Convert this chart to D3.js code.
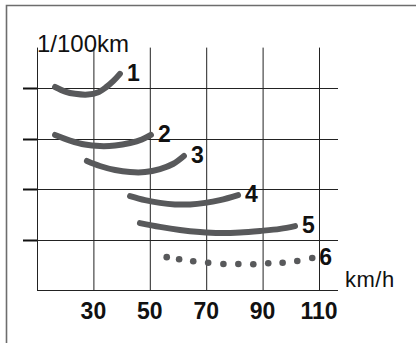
<!DOCTYPE html>
<html>
<head>
<meta charset="utf-8">
<script src="https://cdn.jsdelivr.net/npm/d3@7"></script>
<style>
  html, body { margin: 0; padding: 0; background: #fff; }
  svg { display: block; }
  text { font-family: "Liberation Sans", Arial, sans-serif; }
</style>
</head>
<body>
<div id="chart"></div>
<script>
// speed ticks (km/h) and unlabeled consumption grid levels
const xTicks = [10, 30, 50, 70, 90, 110];
const xLabels = ["30", "50", "70", "90", "110"];
const yGrid = [4, 6, 8, 10];

// gear curves: speed (km/h) and consumption
const gear1 = [[16.4, 10.04], [20, 9.86], [23.5, 9.77], [28, 9.74], [31.5, 9.82], [34.6, 10.04], [37.1, 10.28], [39.4, 10.56]];
const gear2 = [[16.4, 8.14], [21.7, 7.92], [27, 7.76], [32.3, 7.7], [37.7, 7.72], [43, 7.82], [47.2, 7.96], [50.4, 8.14]];
const gear3 = [[27.7, 7.11], [32.3, 6.91], [37.7, 6.75], [43, 6.67], [48.3, 6.67], [53.6, 6.79], [58.2, 6.99], [62.1, 7.31]];
const gear4 = [[43, 5.72], [48.3, 5.56], [53.6, 5.45], [58.9, 5.39], [64.3, 5.39], [69.6, 5.45], [74.9, 5.56], [81.3, 5.76]];
const gear5 = [[46.5, 4.65], [53.6, 4.5], [60.7, 4.38], [67.8, 4.3], [74.9, 4.26], [82, 4.28], [89.1, 4.34], [96.2, 4.42], [101.5, 4.53]];
const gear6 = [[56, 3.3], [60.4, 3.22], [65.4, 3.14], [70.7, 3.08], [76.1, 3.03], [81.4, 3.03], [86.7, 3.02], [92, 3.06], [97.1, 3.08], [102.3, 3.15], [107.6, 3.27]];
const gearNames = ["1", "2", "3", "4", "5", "6"];

const W = 416, H = 343;
const ink = "#58595b";

const x = d3.scaleLinear().domain([10, 110]).range([37, 319]);
const y = d3.scaleLinear().domain([2, 10]).range([290, 88]);
const yTop = 11.6;

const svg = d3.select("#chart").append("svg")
  .attr("width", W)
  .attr("height", H);

// outer frame (top + left only)
svg.append("path")
  .attr("d", `M6.5,${H} V5.5 H${W}`)
  .attr("fill", "none")
  .attr("stroke", "#6d6d6d")
  .attr("stroke-width", 1.6);

const grid = svg.append("g");

// vertical grid lines
grid.selectAll(".vline")
  .data(xTicks)
  .enter().append("line")
  .attr("class", "vline")
  .attr("x1", d => x(d) + 0.5).attr("x2", d => x(d) + 0.5)
  .attr("y1", y(yTop)).attr("y2", y(2))
  .attr("stroke", "#222")
  .attr("stroke-width", 1);

// horizontal grid lines plus little tick dashes on the left
grid.selectAll(".hline")
  .data(yGrid)
  .enter().append("line")
  .attr("class", "hline")
  .attr("x1", x(10) - 14).attr("x2", x(110) + 19)
  .attr("y1", d => Math.round(y(d)) + 0.5).attr("y2", d => Math.round(y(d)) + 0.5)
  .attr("stroke", "#222")
  .attr("stroke-width", 1);

grid.selectAll(".tick")
  .data(yGrid)
  .enter().append("line")
  .attr("class", "tick")
  .attr("x1", x(10) - 14).attr("x2", x(10))
  .attr("y1", d => Math.round(y(d)) + 0.5).attr("y2", d => Math.round(y(d)) + 0.5)
  .attr("stroke", "#111")
  .attr("stroke-width", 2);

// bottom axis line
grid.append("line")
  .attr("x1", x(10)).attr("x2", x(110) + 19)
  .attr("y1", Math.round(y(2)) + 0.5).attr("y2", Math.round(y(2)) + 0.5)
  .attr("stroke", "#222")
  .attr("stroke-width", 1.2);

// x tick labels
svg.selectAll(".xlab")
  .data(xLabels)
  .enter().append("text")
  .attr("class", "xlab")
  .attr("x", d => x(+d))
  .attr("y", 319)
  .attr("text-anchor", "middle")
  .attr("font-weight", "bold")
  .attr("font-size", 23)
  .attr("fill", "#111")
  .text(d => d);

// axis titles
svg.append("text")
  .attr("x", 37)
  .attr("y", 52)
  .attr("font-size", 24)
  .attr("fill", "#111")
  .text("1/100km");

svg.append("text")
  .attr("x", 345)
  .attr("y", 287)
  .attr("font-size", 22)
  .attr("letter-spacing", 0.5)
  .attr("fill", "#111")
  .text("km/h");

// gear curves
const line = d3.line()
  .x(d => x(d[0]))
  .y(d => y(d[1]))
  .curve(d3.curveCatmullRom.alpha(0.5));

const solid = [gear1, gear2, gear3, gear4, gear5];

svg.selectAll(".gear")
  .data(solid)
  .enter().append("path")
  .attr("class", "gear")
  .attr("d", line)
  .attr("fill", "none")
  .attr("stroke", ink)
  .attr("stroke-width", 6)
  .attr("stroke-linecap", "round");

svg.selectAll(".dot")
  .data(gear6)
  .enter().append("circle")
  .attr("class", "dot")
  .attr("cx", d => x(d[0]))
  .attr("cy", d => y(d[1]))
  .attr("r", 3.3)
  .attr("fill", ink);

// gear labels at the end of each curve
const all = [gear1, gear2, gear3, gear4, gear5, gear6];
svg.selectAll(".glab")
  .data(all)
  .enter().append("text")
  .attr("class", "glab")
  .attr("x", d => x(d[d.length - 1][0]) + 7)
  .attr("y", d => y(d[d.length - 1][1]) + 7)
  .attr("font-weight", "bold")
  .attr("font-size", 23)
  .attr("fill", "#111")
  .text((d, i) => gearNames[i]);
</script>
</body>
</html>
